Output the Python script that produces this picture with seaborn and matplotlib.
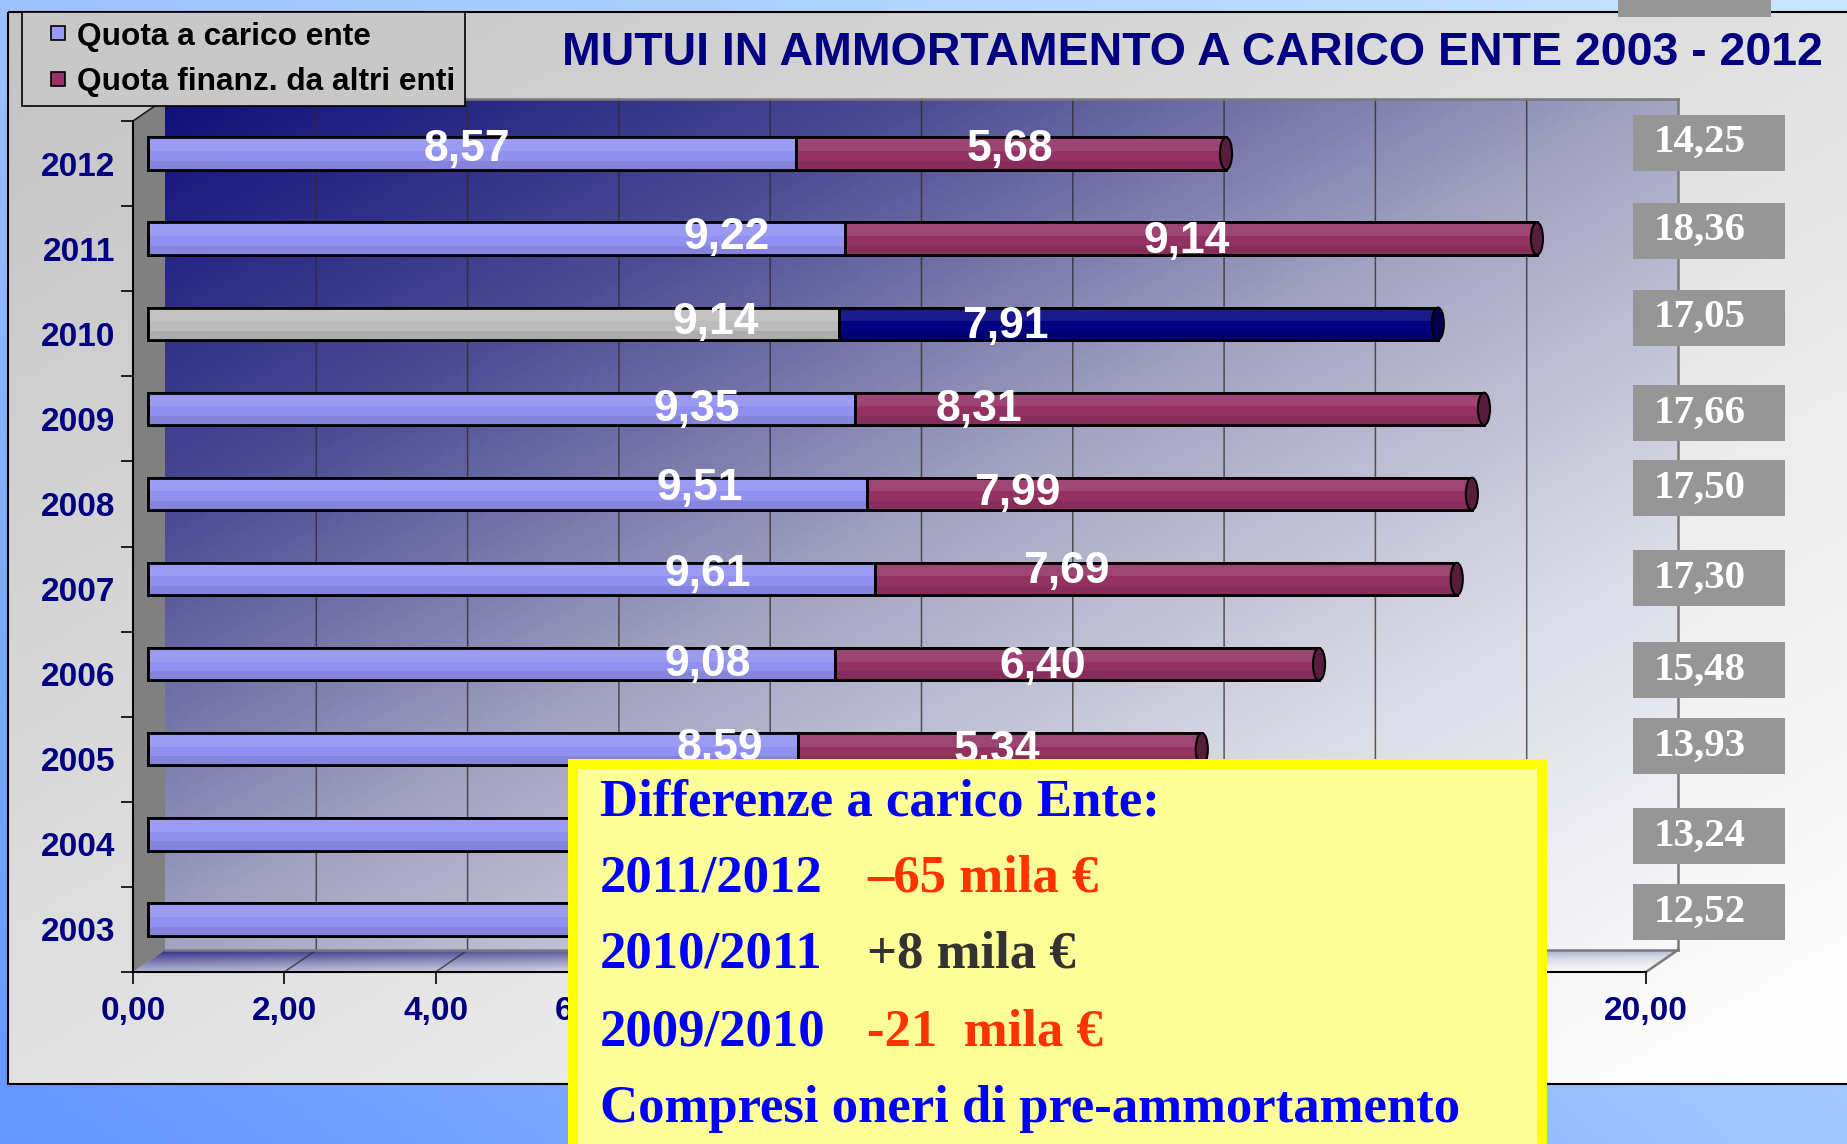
import numpy as np
import seaborn as sns
import matplotlib.pyplot as plt
from matplotlib.patches import Rectangle, Ellipse, Polygon
from matplotlib.lines import Line2D
from matplotlib.colors import LinearSegmentedColormap, to_rgb
from matplotlib.transforms import offset_copy

# --- data (rows from top to bottom, as in the chart) ---
anni = ['2012', '2011', '2010', '2009', '2008', '2007', '2006', '2005', '2004', '2003']
quota_ente = [8.57, 9.22, 9.14, 9.35, 9.51, 9.61, 9.08, 8.59, 8.52, 8.21]
quota_altri = [5.68, 9.14, 7.91, 8.31, 7.99, 7.69, 6.40, 5.34, 4.72, 4.31]
anno_evidenziato = '2010'
x_ticks = [0, 2, 4, 6, 8, 10, 12, 14, 16, 18, 20]
# tick labels hidden behind the note box in the original
x_ticks_visibili = [0, 2, 4, 6, 20]
# rows whose bar labels are hidden behind the note box
anni_senza_etichette = ['2004', '2003']

titolo = 'MUTUI IN AMMORTAMENTO A CARICO ENTE 2003 - 2012'
legenda = ['Quota a carico ente', 'Quota finanz. da altri enti']
nota_titolo = 'Differenze a carico Ente:'
nota_periodi = ['2011/2012', '2010/2011', '2009/2010']
nota_valori = ['\u201365 mila \u20ac', '+8 mila \u20ac', '-21  mila \u20ac']
nota_fine = 'Compresi oneri di pre-ammortamento'

# --- layout tweaks (label positions as placed in the original) ---
lab_ente_x = [4.21, 7.65, 7.50, 7.25, 7.30, 7.40, 7.40, 7.56, 7.30, 7.10]
lab_altri_x = [11.39, 13.73, 11.33, 10.99, 11.49, 12.14, 11.83, 11.22, 10.9, 10.4]
lab_ente_dy = [-4, -1, -1, 1, -5, -5, 0, -1, 0, 0]
lab_altri_dy = [-4, 3, 3, 1, 0, -8, 2, 1, 0, 0]
tot_dy = [-21, -18, -16, -6, -16, -11, -4, -13, -8, -17]

c_ente, c_altri = '#9090f0', '#933163'
c_ente_hl, c_altri_hl = '#bcbcbc', '#000080'
navy = '#000080'

W, H = 1847, 1144
plt.rcParams['font.family'] = ['Liberation Sans', 'DejaVu Sans']

fig = plt.figure(figsize=(W / 100, H / 100), dpi=100)
bg = fig.add_axes([0, 0, 1, 1], zorder=0)
bg.set_xlim(0, W)
bg.set_ylim(H, 0)
bg.axis('off')
ax = fig.add_axes([133 / W, 1 - 972 / H, (1646 - 133) / W, (972 - 121) / H], zorder=1)
ax.set_facecolor('none')
fg = fig.add_axes([0, 0, 1, 1], zorder=2)
fg.set_xlim(0, W)
fg.set_ylim(H, 0)
fg.axis('off')
fg.set_facecolor('none')


def bilinear(tl, tr, bl, br, n=200):
    u = np.linspace(0, 1, n)[None, :, None]
    v = np.linspace(0, 1, n)[:, None, None]
    tl, tr, bl, br = [np.array(to_rgb(c)) for c in (tl, tr, bl, br)]
    return (1 - v) * ((1 - u) * tl + u * tr) + v * ((1 - u) * bl + u * br)


def diag(n=200):
    u = np.linspace(0, 1, n)[None, :]
    v = np.linspace(0, 1, n)[:, None]
    return (u + v) / 2


# blue slide background and grey chart panel
bg.imshow(bilinear('#9cc2ff', '#c8e6ff', '#6496ff', '#a2c6ff'), extent=[0, W, H, 0], aspect='auto', zorder=0)
panel_cmap = LinearSegmentedColormap.from_list('panel', ['#c4c4c4', '#ffffff'])
bg.imshow(diag(), cmap=panel_cmap, extent=[8, W, 1084, 12], aspect='auto', zorder=1, vmin=0, vmax=1)
bg.add_patch(Rectangle((8, 12), W, 1072, fill=False, ec='black', lw=1.5, zorder=2))

ax.set_xlim(0, 20)
ax.set_ylim(9.5, -0.5)

BACK = (32, -22)


def px(xd, yd, off=(0, 0)):
    X, Y = ax.transData.transform((xd, yd))
    return X + off[0], H - Y + off[1]


# back wall
tl = px(0, -0.5, BACK)
br = px(20, 9.5, BACK)
wall_cmap = LinearSegmentedColormap.from_list(
    'wall', ['#10107a', '#4c4c94', '#a4a4c2', '#dadae6', '#f8f8fa'])
bg.imshow(diag(), cmap=wall_cmap, extent=[tl[0], br[0], br[1], tl[1]], aspect='auto',
          zorder=3, vmin=0, vmax=1)

# left wall
bg.add_patch(Polygon([px(0, -0.5), px(0, -0.5, BACK), px(0, 9.5, BACK), px(0, 9.5)],
                     closed=True, fc='#808080', ec='none', zorder=4))
bg.plot(*zip(px(0, -0.5), px(0, -0.5, BACK)), color='#202020', lw=1.2, zorder=5)

# floor
floor_pts = [px(0, 9.5), px(20, 9.5), px(20, 9.5, BACK), px(0, 9.5, BACK)]
floor = Polygon(floor_pts, closed=True, transform=bg.transData)
floor_cmap = LinearSegmentedColormap.from_list('floor', ['#2a2a88', '#8c8cb8', '#dcdce8', '#ffffff'])
fx = [p[0] for p in floor_pts]
fy = [p[1] for p in floor_pts]
im = bg.imshow(diag(), cmap=floor_cmap, extent=[min(fx), max(fx), max(fy), min(fy)],
               aspect='auto', zorder=4, vmin=0, vmax=1)
im.set_clip_path(floor)

# grid on wall and floor
for xt in x_ticks[1:-1]:
    a, b, c = px(xt, -0.5, BACK), px(xt, 9.5, BACK), px(xt, 9.5)
    bg.plot([a[0], b[0], c[0]], [a[1], b[1], c[1]], color='#2a2a2a', lw=1.1, alpha=0.75, zorder=5)
# wall edges
for p0, p1 in [(px(0, -0.5, BACK), px(20, -0.5, BACK)),
               (px(20, -0.5, BACK), px(20, 9.5, BACK)),
               (px(0, 9.5, BACK), px(20, 9.5, BACK)),
               (px(20, 9.5, BACK), px(20, 9.5))]:
    bg.plot([p0[0], p1[0]], [p0[1], p1[1]], color='#7a7a7a', lw=1.8, zorder=5)

# --- bars ---
bar_tr = offset_copy(ax.transData, fig=fig, x=15, y=10, units='dots')
sns.barplot(x=quota_ente, y=anni, orient='h', color=c_ente, saturation=1, width=0.38,
            errorbar=None, edgecolor='black', linewidth=2, ax=ax)
n1 = len(ax.patches)
sns.barplot(x=quota_altri, y=anni, orient='h', left=quota_ente, color=c_altri, saturation=1,
            width=0.38, errorbar=None, edgecolor='black', linewidth=2, ax=ax)

hl = anni.index(anno_evidenziato)
ax.patches[hl].set_facecolor(c_ente_hl)
ax.patches[n1 + hl].set_facecolor(c_altri_hl)


def mix(c, other, f):
    c, o = np.array(to_rgb(c)), np.array(to_rgb(other))
    return tuple(c * (1 - f) + o * f)


bars = list(ax.patches)
for k, p in enumerate(bars):
    p.set_transform(bar_tr)
    p.set_zorder(2)
    x, y, w, h = p.get_x(), p.get_y(), p.get_width(), p.get_height()
    fc = p.get_facecolor()[:3]
    ax.add_patch(Rectangle((x, y), w, h * 0.42, transform=bar_tr, fc=mix(fc, 'white', 0.1),
                           ec='none', zorder=2.1))
    ax.add_patch(Rectangle((x, y + h * 0.72), w, h * 0.28, transform=bar_tr,
                           fc=mix(fc, 'black', 0.08), ec='none', zorder=2.1))
    ax.add_patch(Rectangle((x, y), w, h, transform=bar_tr, fill=False, ec='black', lw=2, zorder=2.2))
    if k >= n1:
        ax.add_patch(Ellipse((x + w, y + h / 2), 0.16, h, transform=bar_tr,
                             fc=mix(fc, 'black', 0.4), ec='black', lw=1.5, zorder=2.3))


def fmt(v):
    return f'{v:.2f}'.replace('.', ',')


lab_kw = dict(xycoords=bar_tr, textcoords='offset pixels', ha='center', va='center',
              color='white', fontsize=32, fontweight='bold', zorder=3)
for i in range(len(anni)):
    if anni[i] in anni_senza_etichette:
        continue
    ax.annotate(fmt(quota_ente[i]), xy=(lab_ente_x[i], i), xytext=(0, -lab_ente_dy[i]), **lab_kw)
    ax.annotate(fmt(quota_altri[i]), xy=(lab_altri_x[i], i), xytext=(0, -lab_altri_dy[i]), **lab_kw)

# --- axes ---
ax.set_xlim(0, 20)
ax.set_ylim(9.5, -0.5)
ax.set_xlabel('')
ax.set_ylabel('')
ax.set_xticks(x_ticks)
ax.set_xticklabels([fmt(t) if t in x_ticks_visibili else '' for t in x_ticks], fontweight='bold')
ax.set_yticks(range(len(anni)))
ax.set_yticklabels(anni, fontweight='bold')
ax.set_yticks(np.arange(-0.5, len(anni), 1), minor=True)
ax.tick_params(axis='x', length=8.6, width=1.2, pad=9, labelsize=24, labelcolor=navy)
ax.tick_params(axis='y', which='major', length=0, pad=13, labelsize=24, labelcolor=navy)
ax.tick_params(axis='y', which='minor', length=8.6, width=1.2)
for s in ['top', 'right']:
    ax.spines[s].set_visible(False)
for s in ['left', 'bottom']:
    ax.spines[s].set_linewidth(1.5)
    ax.spines[s].set_color('black')

leg = ax.legend(
    handles=[Line2D([], [], ls='none', marker='s', markersize=10, mfc='#9999ff', mec='black', mew=1.2),
             Line2D([], [], ls='none', marker='s', markersize=10, mfc='#993366', mec='black', mew=1.2)],
    labels=legenda, loc='upper left', bbox_to_anchor=(22 / W, 1 - 12 / H),
    bbox_transform=fig.transFigure, borderaxespad=0, frameon=True, fancybox=False,
    facecolor='#c8c8c8', edgecolor='black', framealpha=1, handlelength=1.65, handletextpad=-0.2,
    borderpad=0.3, labelspacing=0.48, prop=dict(family='Liberation Sans', weight='bold', size=22.8))
leg.get_frame().set_linewidth(1.2)

fig.text(1192 / W, 1 - 53 / H, titolo, ha='center', va='center', fontsize=33.5,
         fontweight='bold', color=navy)

# --- totals on the right ---
serif = ['Liberation Serif', 'DejaVu Serif']
fg.add_patch(Rectangle((1618, -40), 153, 57, fc='#969696', ec='none'))
for i in range(len(anni)):
    cy = px(0, i)[1] + tot_dy[i]
    fg.add_patch(Rectangle((1633, cy - 28), 152, 56, fc='#969696', ec='none'))
    fg.text(1654, cy, fmt(round(quota_ente[i] + quota_altri[i], 2)), ha='left', va='center',
            color='white', fontsize=29.5, fontweight='bold', family=serif)

# --- yellow note box ---
fg.add_patch(Rectangle((573, 764), 969, 430, fc='#ffff99', ec='#ffff00', lw=7.2))
base = [815, 892, 968, 1045, 1122]
fg.text(600, base[0], nota_titolo, ha='left', va='baseline', color='#0000ff', fontsize=38,
        fontweight='bold', family=serif)
val_col = ['#ff3300', '#333333', '#ff3300']
for j in range(3):
    fg.text(600, base[j + 1], nota_periodi[j], ha='left', va='baseline', color='#0000ff',
            fontsize=38, fontweight='bold', family=serif)
    fg.text(867, base[j + 1], nota_valori[j], ha='left', va='baseline', color=val_col[j],
            fontsize=38, fontweight='bold', family=serif)
fg.text(600, base[4], nota_fine, ha='left', va='baseline', color='#0000ff', fontsize=38,
        fontweight='bold', family=serif)

fig.savefig('out.png', dpi=100)
